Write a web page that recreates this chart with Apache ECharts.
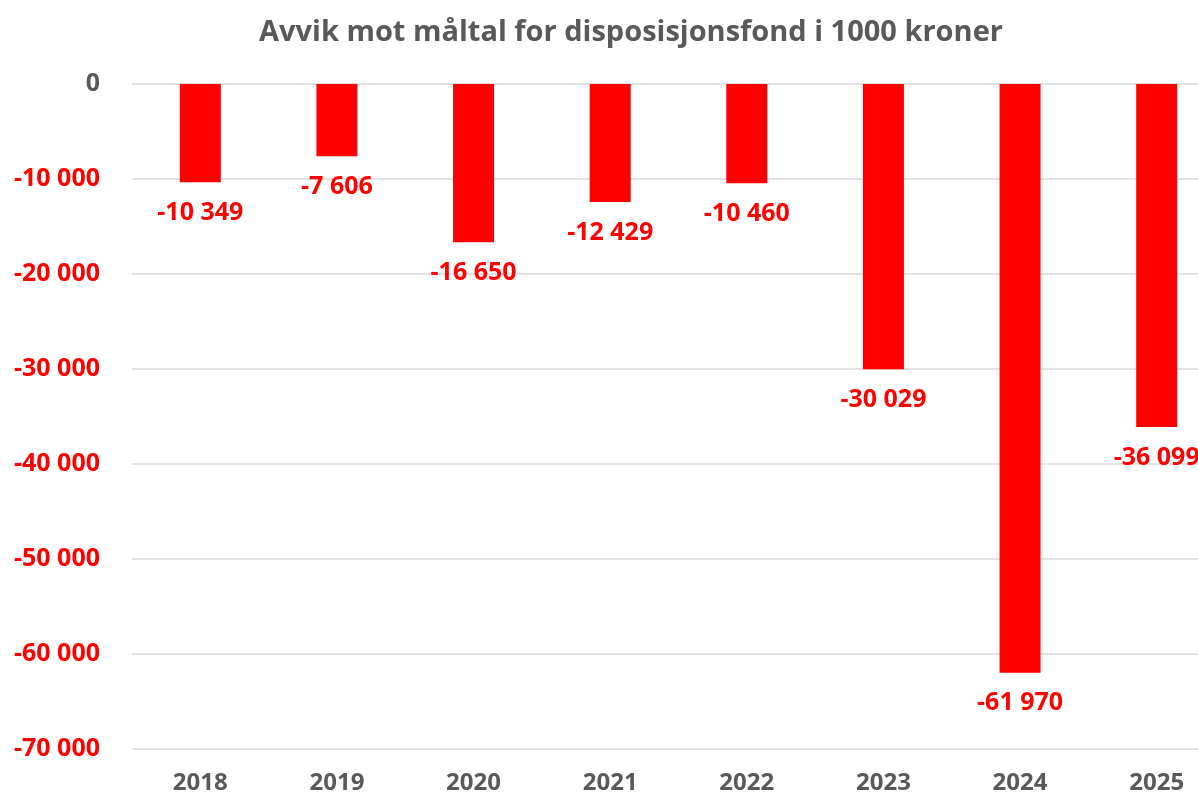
<!DOCTYPE html>
<html><head><meta charset="utf-8">
<script src="https://cdn.jsdelivr.net/npm/echarts@6/dist/echarts.min.js"></script>
<style>html,body{margin:0;padding:0;background:#fff}#c{width:1198px;height:796px}</style>
</head><body><div id="c"></div>
<script>
const titleText = 'Avvik mot måltal for disposisjonsfond i 1000 kroner';
const categories = ['2018','2019','2020','2021','2022','2023','2024','2025'];
const values = [-10349, -7606, -16650, -12429, -10460, -30029, -61970, -36099];
const yMin = -70000, yMax = 0, yStep = 10000;

function fmt(v){
  const s = Math.abs(Math.round(v)).toString().replace(/\B(?=(\d{3})+(?!\d))/g, ' ');
  return (v < 0 ? '-' : '') + s;
}
const font = '"Open Sans", "Liberation Sans", sans-serif';
const chart = echarts.init(document.getElementById('c'), null, {renderer:'canvas'});
chart.setOption({
  animation:false,
  backgroundColor:'#ffffff',
  title:{text:titleText,left:626,top:13,textAlign:'center',
    textStyle:{color:'#595959',fontSize:29,fontWeight:'bold',fontFamily:font}},
  grid:{left:132,width:1093,top:84,height:665,containLabel:false,outerBoundsMode:'none'},
  xAxis:{type:'category',data:categories,
    axisLine:{show:false,onZero:false},axisTick:{show:false},
    axisLabel:{color:'#595959',fontSize:24,fontWeight:'bold',fontFamily:font,margin:22}},
  yAxis:{type:'value',min:yMin,max:yMax,interval:yStep,
    axisLine:{show:false},axisTick:{show:false},
    splitLine:{lineStyle:{color:'#d9d9d9',width:1.5}},
    axisLabel:{fontSize:25,fontWeight:'bold',fontFamily:font,margin:32,
      color:function(v){return Number(v)===0?'#595959':'#ff0000';},
      formatter:function(v){return fmt(v);}}},
  series:[{type:'bar',data:values,barWidth:41,
    itemStyle:{color:'#ff0000'},
    label:{show:true,position:'outside',distance:18,color:'#ff0000',fontSize:25,fontWeight:'bold',fontFamily:font,
      formatter:function(p){return fmt(p.value);}}}]
});
</script></body></html>
